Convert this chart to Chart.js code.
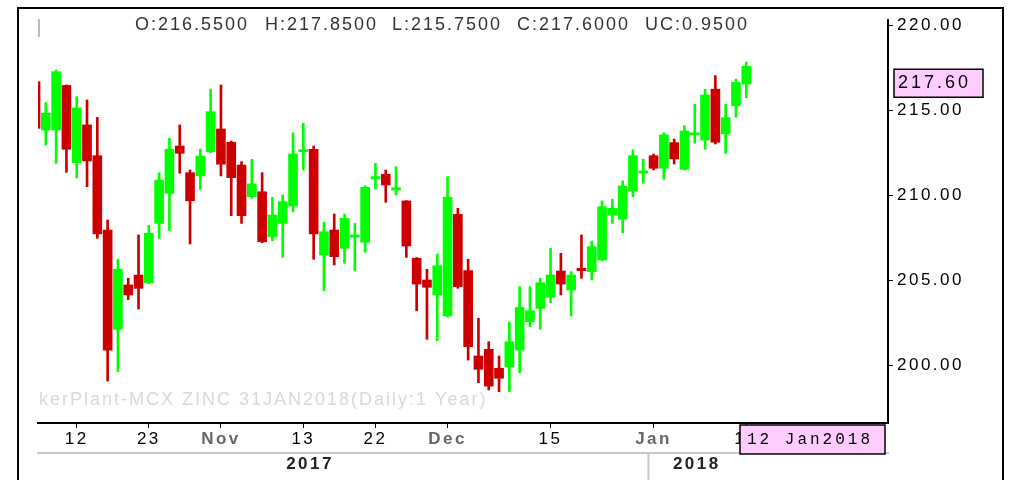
<!DOCTYPE html>
<html lang="en">
<head>
<meta charset="UTF-8">
<title>MCX ZINC 31JAN2018 Daily</title>
<style>
    body { margin: 0; background: #fff; }
    .wrap { position: relative; width: 1011px; height: 480px; }
</style>
<script src="https://cdn.jsdelivr.net/npm/chart.js"></script>
</head>
<body>
<div class="wrap"><canvas id="zincChart"></canvas></div>
<script>
// daily candles, 6 Oct 2017 .. 12 Jan 2018
const dates = [
    '2017-10-06','2017-10-09','2017-10-10','2017-10-11','2017-10-12','2017-10-13','2017-10-16','2017-10-17','2017-10-18','2017-10-19',
    '2017-10-20','2017-10-23','2017-10-24','2017-10-25','2017-10-26','2017-10-27','2017-10-30','2017-10-31','2017-11-01','2017-11-02',
    '2017-11-03','2017-11-06','2017-11-07','2017-11-08','2017-11-09','2017-11-10','2017-11-13','2017-11-14','2017-11-15','2017-11-16',
    '2017-11-17','2017-11-20','2017-11-21','2017-11-22','2017-11-23','2017-11-24','2017-11-27','2017-11-28','2017-11-29','2017-11-30',
    '2017-12-01','2017-12-04','2017-12-05','2017-12-06','2017-12-07','2017-12-08','2017-12-11','2017-12-12','2017-12-13','2017-12-14',
    '2017-12-15','2017-12-18','2017-12-19','2017-12-20','2017-12-21','2017-12-22','2017-12-26','2017-12-27','2017-12-28','2017-12-29',
    '2018-01-01','2018-01-02','2018-01-03','2018-01-04','2018-01-05','2018-01-08','2018-01-09','2018-01-10','2018-01-11','2018-01-12'
];
const opens = [
    216.69, 213.85, 213.85, 216.47, 211.93, 214.15, 212.34, 207.97, 202.13, 204.74,
    205.32, 204.87, 208.36, 210.13, 212.91, 211.34, 211.15, 212.58, 213.91, 213.13,
    211.79, 209.93, 210.22, 207.58, 208.36, 209.38, 212.58, 212.71, 206.50, 207.97,
    206.89, 207.54, 207.25, 210.97, 211.25, 210.32, 209.68, 206.31, 205.03, 204.15,
    202.91, 208.89, 205.58, 200.56, 200.95, 199.84, 199.93, 200.91, 202.58, 203.36,
    204.01, 205.56, 204.44, 205.72, 205.52, 206.21, 208.85, 208.60, 210.28, 211.31,
    212.34, 211.60, 213.11, 211.54, 213.56, 213.26, 216.25, 213.62, 215.28, 216.55
];
const highs = [
    217.00, 215.46, 217.38, 216.50, 215.81, 215.62, 214.59, 208.56, 206.25, 205.13,
    207.68, 208.24, 211.34, 213.36, 214.15, 211.50, 212.72, 216.25, 216.50, 213.20,
    211.99, 212.13, 211.34, 209.89, 210.03, 213.69, 214.25, 212.91, 208.42, 208.91,
    208.91, 208.36, 210.56, 211.89, 211.50, 211.69, 209.70, 206.35, 205.66, 206.56,
    211.11, 209.25, 206.25, 202.78, 201.40, 200.56, 202.54, 204.64, 204.64, 205.13,
    206.89, 206.60, 205.52, 207.68, 207.32, 209.68, 209.78, 210.87, 212.68, 212.13,
    212.44, 213.69, 213.32, 214.11, 215.36, 216.25, 217.05, 215.36, 216.84, 217.85
];
const lows = [
    213.80, 212.97, 211.89, 211.36, 211.03, 210.52, 207.48, 199.09, 199.65, 203.88,
    203.32, 204.82, 207.48, 207.93, 211.31, 207.15, 210.36, 212.52, 211.15, 208.81,
    208.36, 209.84, 207.22, 207.34, 206.36, 209.05, 211.50, 206.25, 204.40, 205.91,
    206.01, 205.58, 206.66, 210.38, 209.60, 210.03, 206.36, 203.22, 201.54, 201.46,
    202.85, 204.54, 200.32, 198.99, 198.56, 198.46, 198.46, 199.58, 202.28, 202.13,
    203.69, 204.15, 202.91, 205.13, 205.03, 206.15, 208.36, 207.81, 209.93, 210.72,
    211.50, 210.95, 211.85, 211.50, 213.07, 212.72, 213.03, 212.48, 214.60, 215.75
];
const closes = [
    213.95, 214.84, 217.28, 212.72, 215.15, 212.03, 207.74, 200.91, 205.66, 204.15,
    204.54, 207.78, 210.91, 212.72, 212.48, 209.69, 212.32, 214.93, 211.84, 211.05,
    208.81, 210.68, 207.28, 208.85, 209.64, 212.44, 212.68, 207.74, 207.87, 206.40,
    208.66, 207.68, 210.48, 211.11, 210.62, 210.46, 207.03, 204.79, 204.60, 205.87,
    209.89, 204.64, 201.11, 199.78, 198.79, 199.25, 201.40, 203.42, 203.22, 204.87,
    205.32, 204.79, 205.32, 205.58, 206.99, 209.34, 209.25, 210.56, 212.34, 211.44,
    211.60, 213.56, 212.15, 213.79, 213.69, 215.91, 213.13, 214.58, 216.65, 217.60
];
const xTickDates = ['2017-10-12','2017-10-23','2017-11-01','2017-11-13','2017-11-22','2017-12-01','2017-12-15','2018-01-01','2018-01-12'];
const xTickLabels = ['12', '23', 'Nov', '13', '22', 'Dec', '15', 'Jan', '12'];
const yTicks = [200, 205, 210, 215, 220];
const years = ['2017', '2018'];
const watermark = 'kerPlant-MCX ZINC 31JAN2018(Daily:1 Year)';

const FONT = '"Liberation Sans", Arial, sans-serif';
const UP = '#00ff00';
const DOWN = '#cc0000';
const PINK = '#ffccff';
const last = closes.length - 1;
const candleColors = closes.map((c, i) => c >= opens[i] ? UP : DOWN);
const MONTHS = ['Jan','Feb','Mar','Apr','May','Jun','Jul','Aug','Sep','Oct','Nov','Dec'];

// visible index window and price window
const X_MIN = 0.24, X_MAX = 82.76;
const Y_MIN = 196.62, Y_MAX = 220.32;

const decor = {
    id: 'decor',
    beforeDraw(chart) {
        chart.ctx.letterSpacing = '2.5px';
    },
    beforeDatasetsDraw(chart) {
        const ctx = chart.ctx;
        ctx.save();
        ctx.letterSpacing = '2px';
        ctx.font = '18px ' + FONT;
        ctx.fillStyle = '#d9d9d9';
        ctx.textBaseline = 'middle';
        ctx.textAlign = 'left';
        ctx.fillText(watermark, 39, 400);
        ctx.restore();
    },
    afterDraw(chart) {
        const ctx = chart.ctx;
        const xs = chart.scales.x, ys = chart.scales.y;
        ctx.save();

        // OHLC header for the last bar
        const items = [
            'O:' + opens[last].toFixed(4),
            'H:' + highs[last].toFixed(4),
            'L:' + lows[last].toFixed(4),
            'C:' + closes[last].toFixed(4),
            'UC:' + (closes[last] - closes[last - 1]).toFixed(4)
        ];
        const hx = [135, 265, 392, 517, 645];
        ctx.letterSpacing = '2px';
        ctx.font = '18px ' + FONT;
        ctx.fillStyle = '#333';
        ctx.textBaseline = 'middle';
        ctx.textAlign = 'left';
        items.forEach((t, i) => ctx.fillText(t, hx[i], 25));

        // small marker top-left
        ctx.strokeStyle = '#bbb';
        ctx.lineWidth = 2;
        ctx.beginPath();
        ctx.moveTo(39, 19); ctx.lineTo(39, 37);
        ctx.stroke();

        // last price box
        const py = ys.getPixelForValue(closes[last]) + 3;
        ctx.fillStyle = PINK;
        ctx.fillRect(894, py, 89, 28);
        ctx.strokeStyle = '#000';
        ctx.lineWidth = 1.5;
        ctx.strokeRect(894, py, 89, 28);
        ctx.fillStyle = '#000';
        ctx.letterSpacing = '3px';
        ctx.font = '18px ' + FONT;
        ctx.fillText(closes[last].toFixed(2), 898, py + 14);

        // year separator
        const bx = xs.getPixelForValue(dates.indexOf('2018-01-01') - 0.5);
        ctx.strokeStyle = '#c8c8c8';
        ctx.lineWidth = 2;
        ctx.beginPath();
        ctx.moveTo(bx, 453); ctx.lineTo(bx, 480);
        ctx.stroke();

        // last date box
        const d = dates[last].split('-');
        const dateText = d[2] + ' ' + MONTHS[+d[1] - 1] + d[0];
        ctx.fillStyle = PINK;
        ctx.fillRect(740, 425, 145, 29);
        ctx.strokeStyle = '#000';
        ctx.lineWidth = 1.5;
        ctx.strokeRect(740, 425, 145, 29);
        ctx.fillStyle = '#000';
        ctx.letterSpacing = '3px';
        ctx.font = '16px "Liberation Mono", monospace';
        ctx.fillText(dateText, 747, 440);

        // outer frame
        ctx.strokeStyle = '#000';
        ctx.lineWidth = 2;
        ctx.strokeRect(18, 8, 985, 490);

        ctx.restore();
        ctx.letterSpacing = '0px';
    }
};

const ctx = document.getElementById('zincChart').getContext('2d');
const zincChart = new Chart(ctx, {
    type: 'bar',
    data: {
        datasets: [
            {
                label: 'body',
                data: dates.map((d, i) => ({ x: i, y: [opens[i], closes[i]] })),
                backgroundColor: candleColors,
                borderWidth: 0,
                barThickness: 9,
                minBarLength: 2,
                grouped: false,
                order: 0
            },
            {
                label: 'wick',
                data: dates.map((d, i) => ({ x: i, y: [lows[i], highs[i]] })),
                backgroundColor: candleColors,
                borderWidth: 0,
                barThickness: 2,
                grouped: false,
                order: 1
            }
        ]
    },
    options: {
        responsive: true,
        maintainAspectRatio: false,
        animation: false,
        layout: { padding: { top: 20, left: 38, right: 0, bottom: 0 } },
        plugins: {
            legend: { display: false },
            tooltip: { enabled: false }
        },
        scales: {
            x: {
                type: 'linear',
                position: 'bottom',
                weight: 0,
                offset: false,
                min: X_MIN,
                max: X_MAX,
                afterFit: s => { s.height = 30; },
                afterBuildTicks: s => { s.ticks = xTickDates.map(d => ({ value: dates.indexOf(d) })); },
                grid: { offset: false, drawOnChartArea: false, drawTicks: true, tickLength: 5, color: '#000', lineWidth: 1 },
                border: { color: '#000', width: 2 },
                ticks: {
                    autoSkip: false,
                    maxRotation: 0,
                    padding: 1,
                    callback: (v, i) => xTickLabels[i],
                    color: c => /[A-Za-z]/.test(xTickLabels[c.index]) ? '#666' : '#000',
                    font: c => ({
                        family: FONT,
                        size: 17,
                        weight: /[A-Za-z]/.test(xTickLabels[c.index]) ? 'bold' : 'normal'
                    })
                }
            },
            x2: {
                type: 'linear',
                position: 'bottom',
                weight: 1,
                offset: false,
                min: X_MIN,
                max: X_MAX,
                afterFit: s => { s.height = 27; },
                afterBuildTicks: s => { s.ticks = [{ value: 26.65 }, { value: 64.2 }]; },
                grid: { display: false, drawTicks: false, offset: false },
                border: { display: true, color: '#c8c8c8', width: 2 },
                ticks: {
                    autoSkip: false,
                    maxRotation: 0,
                    padding: 1,
                    callback: (v, i) => years[i],
                    color: '#222',
                    font: { family: FONT, size: 17, weight: 'bold' }
                }
            },
            y: {
                position: 'right',
                min: Y_MIN,
                max: Y_MAX,
                afterFit: s => { s.width = 123; },
                afterBuildTicks: s => { s.ticks = yTicks.map(v => ({ value: v })); },
                grid: { drawOnChartArea: false, tickLength: 5, color: '#000', lineWidth: 1 },
                border: { color: '#000', width: 2 },
                ticks: {
                    padding: 4,
                    color: '#000',
                    font: { family: FONT, size: 17 },
                    callback: v => v.toFixed(2)
                }
            }
        }
    },
    plugins: [decor]
});
</script>
</body>
</html>
